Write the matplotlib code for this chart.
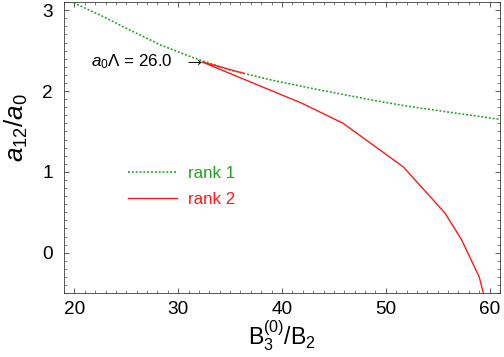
import matplotlib
matplotlib.use('Agg')
import matplotlib.pyplot as plt
from matplotlib.ticker import MultipleLocator

plt.rcParams['font.family'] = ['Liberation Sans', 'DejaVu Sans']
plt.rcParams['mathtext.fontset'] = 'custom'
plt.rcParams['mathtext.rm'] = 'Liberation Sans'
plt.rcParams['mathtext.it'] = 'Liberation Sans:italic'

# rank 1 (green dotted)
rank1_x = [19.0, 19.8, 22.8, 25.1, 28.3, 31.5, 35.0, 39.2, 42.6, 48.8, 52.0, 56.0, 61.0]
rank1_y = [3.16, 3.10, 2.92, 2.77, 2.57, 2.41, 2.26, 2.13, 2.04, 1.885, 1.815, 1.74, 1.65]

# rank 2 (red solid), starts at short back-branch
rank2_x = [36.3, 32.3, 41.9, 45.9, 51.7, 55.7, 57.3, 59.0, 59.5]
rank2_y = [2.22, 2.36, 1.85, 1.60, 1.06, 0.49, 0.16, -0.30, -0.55]

fig = plt.figure(figsize=(7.0, 357 / 72), dpi=72)
ax = fig.add_axes([0.127, 0.179, 0.865, 0.815])

ax.plot(rank1_x, rank1_y, color='#22a022', lw=1.6, linestyle=(0, (1.2, 1.2)), label='rank 1')
ax.plot(rank2_x, rank2_y, color='#ff1a1a', lw=1.4, label='rank 2')

ax.set_xlim(19, 61)
ax.set_ylim(-0.5, 3.1)
ax.xaxis.set_major_locator(MultipleLocator(10))
ax.xaxis.set_minor_locator(MultipleLocator(1))
ax.yaxis.set_major_locator(MultipleLocator(1))
ax.yaxis.set_minor_locator(MultipleLocator(0.1))
ax.tick_params(which='both', direction='in', top=True, right=True, color='#333333')
ax.tick_params(which='major', length=5, labelsize=19)
ax.tick_params(axis='x', which='major', pad=8)
ax.tick_params(axis='y', which='major', pad=11)
ax.tick_params(which='minor', length=3)
for s in ax.spines.values():
    s.set_color('#333333')

ax.set_xlabel(r'B$_3^{(0)}$/B$_2$', fontsize=23, labelpad=0)
ax.set_ylabel(r'$a_{12}/a_0$', fontsize=26)
ax.yaxis.set_label_coords(-0.078, 0.57)

# annotation and its arrow
ax.text(29.45, 2.365, r'$a_0\Lambda$ = 26.0', fontsize=17, ha='right', va='center')
ax.text(31.3, 2.375, r'$\rightarrow$', fontsize=22, ha='center', va='center')

leg = ax.legend(loc='upper left', bbox_to_anchor=(0.112, 0.488), frameon=False, fontsize=17,
                handlelength=2.9, handletextpad=0.65, labelspacing=0.6)
for txt, c in zip(leg.get_texts(), ['#22a022', '#ff1a1a']):
    txt.set_color(c)

fig.savefig('out.png', dpi=72)
